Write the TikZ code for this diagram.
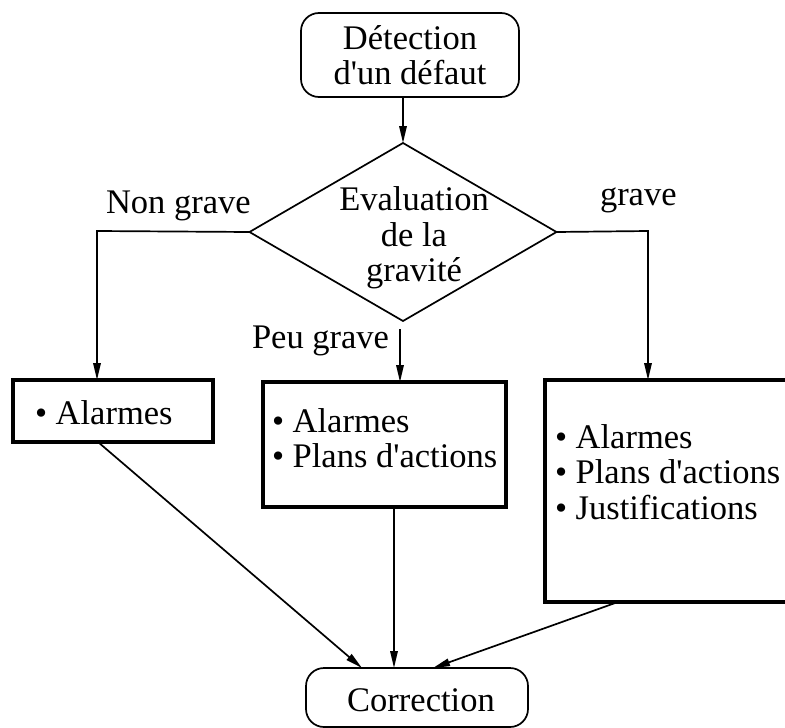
\documentclass[tikz,border=0pt]{standalone}
\usepackage{fontspec}
\setmainfont{Liberation Serif}
\newfontfamily\plainserif{Liberation Serif}
\usetikzlibrary{arrows.meta,shapes.geometric,calc}
\begin{document}
\begin{tikzpicture}[x=1pt,y=-1pt,
  every node/.style={inner sep=0pt,outer sep=0pt},
  txt/.style={font=\plainserif\fontsize{34.5}{35.5}\selectfont},
  conn/.style={line width=1.7pt,-{Triangle[length=17pt,width=7.5pt]}},
  thickbox/.style={draw,rectangle,line width=4.2pt},
  roundbox/.style={draw,rectangle,line width=1.7pt,rounded corners=18pt},
  decision/.style={draw,diamond,line width=1.7pt}]
\useasboundingbox (0,0) rectangle (785,728);
\begin{scope}
\clip (0,0) rectangle (785,728);
% top box
\node[roundbox,txt,align=center,minimum width=218pt,minimum height=84pt] (det) at (410,55) {Détection\\d'un défaut};
% decision
\node[decision,minimum width=307pt,minimum height=178pt] (eval) at (403,232) {};
\node[txt,align=center] (evaltxt) at (414,238) {Evaluation\\de la\\gravité};
% boxes
\node[thickbox,minimum width=200pt,minimum height=62pt] (lbox) at (113,411) {};
\node[txt,anchor=west] (ltxt) at (35,413) {• Alarmes};
\node[thickbox,minimum width=243pt,minimum height=125pt] (cbox) at (384.5,444.5) {};
\node[txt,anchor=west,align=left] (ctxt) at (272,438) {• Alarmes\\• Plans d'actions};
\node[thickbox,minimum width=260pt,minimum height=222pt] (rbox) at (675,491) {};
\node[txt,anchor=west,align=left] (rtxt) at (555,472) {• Alarmes\\• Plans d'actions\\• Justifications};
% correction
\node[roundbox,minimum width=222pt,minimum height=59pt] (corr) at (417,697.5) {};
\node[txt] (corrtxt) at (421,700) {Correction};
% labels
\node[txt,anchor=base west] (lnon) at (106,213) {Non grave};
\node[txt,anchor=base west] (lgrave) at (600,205) {grave};
\node[txt,anchor=base west] (lpeu) at (252,348) {Peu grave};
% connectors
\draw[conn] (eval.north |- det.south) -- (eval.north);
\coordinate (lc) at (97,231);
\draw[conn] (eval.west) -- (lc) -- (lc |- lbox.north);
\coordinate (rc) at (648,231);
\draw[conn] (eval.east) -- (rc) -- (rc |- rbox.north);
\coordinate (cs) at (400,329);
\draw[conn] (cs) -- (cs |- cbox.north);
\draw[conn] ($(lbox.south)+(-15,0)$) -- ($(corr.north west)+(56,0)$);
\draw[conn] ($(cbox.south west)+(131,0)$) -- ($(corr.north west)+(88,0)$);
\draw[conn] ($(rbox.south west)+(73,0)$) -- ($(corr.north west)+(127,0)$);
\end{scope}
\end{tikzpicture}
\end{document}
